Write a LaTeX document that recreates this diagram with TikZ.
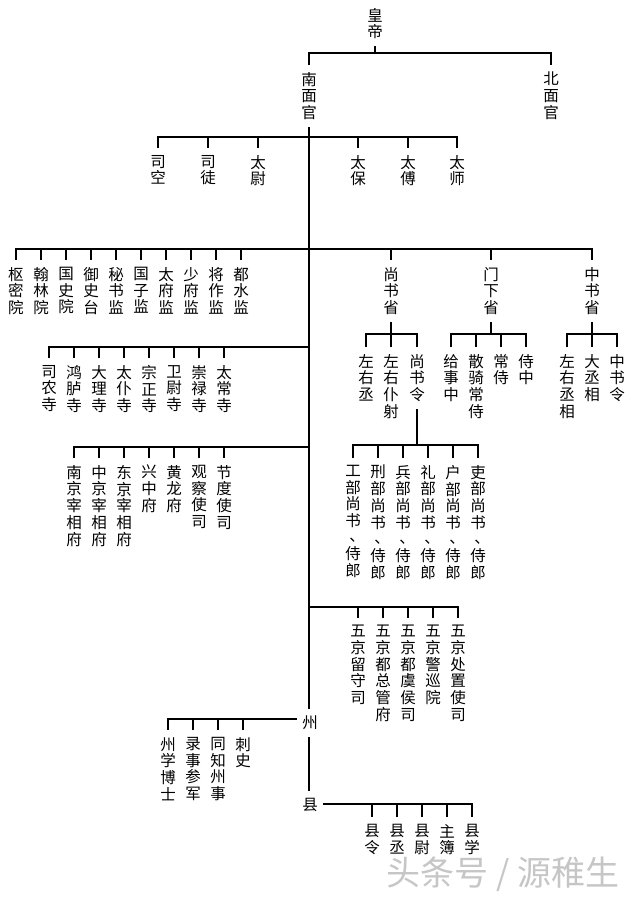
\documentclass[tikz,border=0pt]{standalone}
\usepackage{fontspec}
\setmainfont{Noto Sans CJK SC}
\newfontfamily\cjk{Noto Sans CJK SC}
\newcommand{\dun}{\makebox[15.5pt][l]{\kern4pt\raisebox{1.5pt}[0pt][0pt]{、}}}
\begin{document}
\begin{tikzpicture}[x=1pt,y=-1pt,
  lab/.style={anchor=north,inner xsep=0pt,inner ysep=7pt,align=center,font=\cjk\fontsize{15.5}{16.7}\selectfont},
  ln/.style={line width=1.7pt},
  wmark/.style={font=\cjk\fontsize{34}{34}\selectfont,text=gray!45,inner sep=0pt}]
\useasboundingbox[fill=white] (0,0) rectangle (640,904);

% ---- level 0/1
\node[lab] (huang) at (375,1) {皇\\帝};
\node[lab] (nan) at (309,65) {南\\面\\官};
\node[lab] (bei) at (551,65) {北\\面\\官};
\coordinate (j0) at (375,53);
\draw[ln] (huang.south) -- (j0);
\draw[ln] (nan.north) |- (j0);
\draw[ln] (bei.north) |- (j0);

% ---- 三公三师
\coordinate (j1) at (309,137);
\node[lab] (sk) at (158,148) {司\\空};
\node[lab] (st) at (208,148) {司\\徒};
\node[lab] (tw) at (258,148) {太\\尉};
\node[lab] (tb) at (358,148) {太\\保};
\node[lab] (tf) at (408,148) {太\\傅};
\node[lab] (ts) at (457,148) {太\\师};
\foreach \n in {sk,st,tw,tb,tf,ts} \draw[ln] (\n.north) |- (j1);

% ---- 院监 + 三省
\coordinate (j2) at (309,249);
\node[lab] (a1) at (16,260) {枢\\密\\院};
\node[lab] (a2) at (41,260) {翰\\林\\院};
\node[lab] (a3) at (66,260) {国\\史\\院};
\node[lab] (a4) at (91,260) {御\\史\\台};
\node[lab] (a5) at (116,260) {秘\\书\\监};
\node[lab] (a6) at (141,260) {国\\子\\监};
\node[lab] (a7) at (166,260) {太\\府\\监};
\node[lab] (a8) at (191,260) {少\\府\\监};
\node[lab] (a9) at (216,260) {将\\作\\监};
\node[lab] (a10) at (241,260) {都\\水\\监};
\node[lab] (ssx) at (391,260) {尚\\书\\省};
\node[lab] (mxx) at (491,260) {门\\下\\省};
\node[lab] (zsx) at (592,260) {中\\书\\省};
\foreach \n in {a1,a2,a3,a4,a5,a6,a7,a8,a9,a10,ssx,mxx,zsx} \draw[ln] (\n.north) |- (j2);

% ---- 尚书省
\coordinate (sj) at (391,334);
\draw[ln] (ssx.south) -- (sj);
\node[lab] (s1) at (366,347) {左\\右\\丞};
\node[lab] (s2) at (391,347) {左\\右\\仆\\射};
\node[lab] (s3) at (417,347) {尚\\书\\令};
\foreach \n in {s1,s2,s3} \draw[ln] (\n.north) |- (sj);

% ---- 门下省
\coordinate (mj) at (491,334);
\draw[ln] (mxx.south) -- (mj);
\node[lab] (m1) at (451,347) {给\\事\\中};
\node[lab] (m2) at (476,347) {散\\骑\\常\\侍};
\node[lab] (m3) at (501,347) {常\\侍};
\node[lab] (m4) at (526,347) {侍\\中};
\foreach \n in {m1,m2,m3,m4} \draw[ln] (\n.north) |- (mj);

% ---- 中书省
\coordinate (zj2) at (592,334);
\draw[ln] (zsx.south) -- (zj2);
\node[lab] (z1) at (567,347) {左\\右\\丞\\相};
\node[lab] (z2) at (592,347) {大\\丞\\相};
\node[lab] (z3) at (617,347) {中\\书\\令};
\foreach \n in {z1,z2,z3} \draw[ln] (\n.north) |- (zj2);

% ---- 六部
\coordinate (hj) at (417,445);
\draw[ln] (s3.south) -- (hj);
\node[lab] (h1) at (353,458) {工\\部\\尚\\书\\\dun\\侍\\郎};
\node[lab] (h2) at (378,458) {刑\\部\\尚\\书\\\dun\\侍\\郎};
\node[lab] (h3) at (403,458) {兵\\部\\尚\\书\\\dun\\侍\\郎};
\node[lab] (h4) at (428,458) {礼\\部\\尚\\书\\\dun\\侍\\郎};
\node[lab] (h5) at (453,458) {户\\部\\尚\\书\\\dun\\侍\\郎};
\node[lab] (h6) at (478,458) {吏\\部\\尚\\书\\\dun\\侍\\郎};
\foreach \n in {h1,h2,h3,h4,h5,h6} \draw[ln] (\n.north) |- (hj);

% ---- 寺
\coordinate (j3) at (309,347);
\node[lab] (c1) at (49,358) {司\\农\\寺};
\node[lab] (c2) at (74,358) {鸿\\胪\\寺};
\node[lab] (c3) at (99,358) {大\\理\\寺};
\node[lab] (c4) at (124,358) {太\\仆\\寺};
\node[lab] (c5) at (149,358) {宗\\正\\寺};
\node[lab] (c6) at (174,358) {卫\\尉\\寺};
\node[lab] (c7) at (199,358) {崇\\禄\\寺};
\node[lab] (c8) at (224,358) {太\\常\\寺};
\foreach \n in {c1,c2,c3,c4,c5,c6,c7,c8} \draw[ln] (\n.north) |- (j3);

% ---- 府
\coordinate (j4) at (309,447);
\node[lab] (d1) at (74,458) {南\\京\\宰\\相\\府};
\node[lab] (d2) at (99,458) {中\\京\\宰\\相\\府};
\node[lab] (d3) at (124,458) {东\\京\\宰\\相\\府};
\node[lab] (d4) at (149,458) {兴\\中\\府};
\node[lab] (d5) at (174,458) {黄\\龙\\府};
\node[lab] (d6) at (199,458) {观\\察\\使\\司};
\node[lab] (d7) at (224,458) {节\\度\\使\\司};
\foreach \n in {d1,d2,d3,d4,d5,d6,d7} \draw[ln] (\n.north) |- (j4);

% ---- 五京
\coordinate (j5) at (309,607);
\node[lab] (e1) at (358,618) {五\\京\\留\\守\\司};
\node[lab] (e2) at (383,618) {五\\京\\都\\总\\管\\府};
\node[lab] (e3) at (408,618) {五\\京\\都\\虞\\侯\\司};
\node[lab] (e4) at (433,618) {五\\京\\警\\巡\\院};
\node[lab] (e5) at (458,618) {五\\京\\处\\置\\使\\司};
\foreach \n in {e1,e2,e3,e4,e5} \draw[ln] (\n.north) |- (j5);

% ---- 州
\node[lab,anchor=center] (zhou) at (310,723) {州};
\draw[ln] (nan.south) -- (nan.south |- zhou.north);
\coordinate (zj) at (297,719);
\node[lab] (f1) at (168,730) {州\\学\\博\\士};
\node[lab] (f2) at (193,730) {录\\事\\参\\军};
\node[lab] (f3) at (218,730) {同\\知\\州\\事};
\node[lab] (f4) at (243,730) {刺\\史};
\foreach \n in {f1,f2,f3,f4} \draw[ln] (\n.north) |- (zj);

% ---- 县
\node[lab,anchor=center] (xian) at (310,805) {县};
\draw[ln] (nan.south |- zhou.south) -- (nan.south |- xian.north);
\coordinate (xj) at (323,804);
\node[lab] (g1) at (372,817) {县\\令};
\node[lab] (g2) at (397,817) {县\\丞};
\node[lab] (g3) at (422,817) {县\\尉};
\node[lab] (g4) at (447,817) {主\\簿};
\node[lab] (g5) at (472,817) {县\\学};
\foreach \n in {g1,g2,g3,g4,g5} \draw[ln] (\n.north) |- (xj);

% ---- watermark
\node[wmark] (wm) at (503,874) {头条号 / 源稚生};
\end{tikzpicture}
\end{document}
